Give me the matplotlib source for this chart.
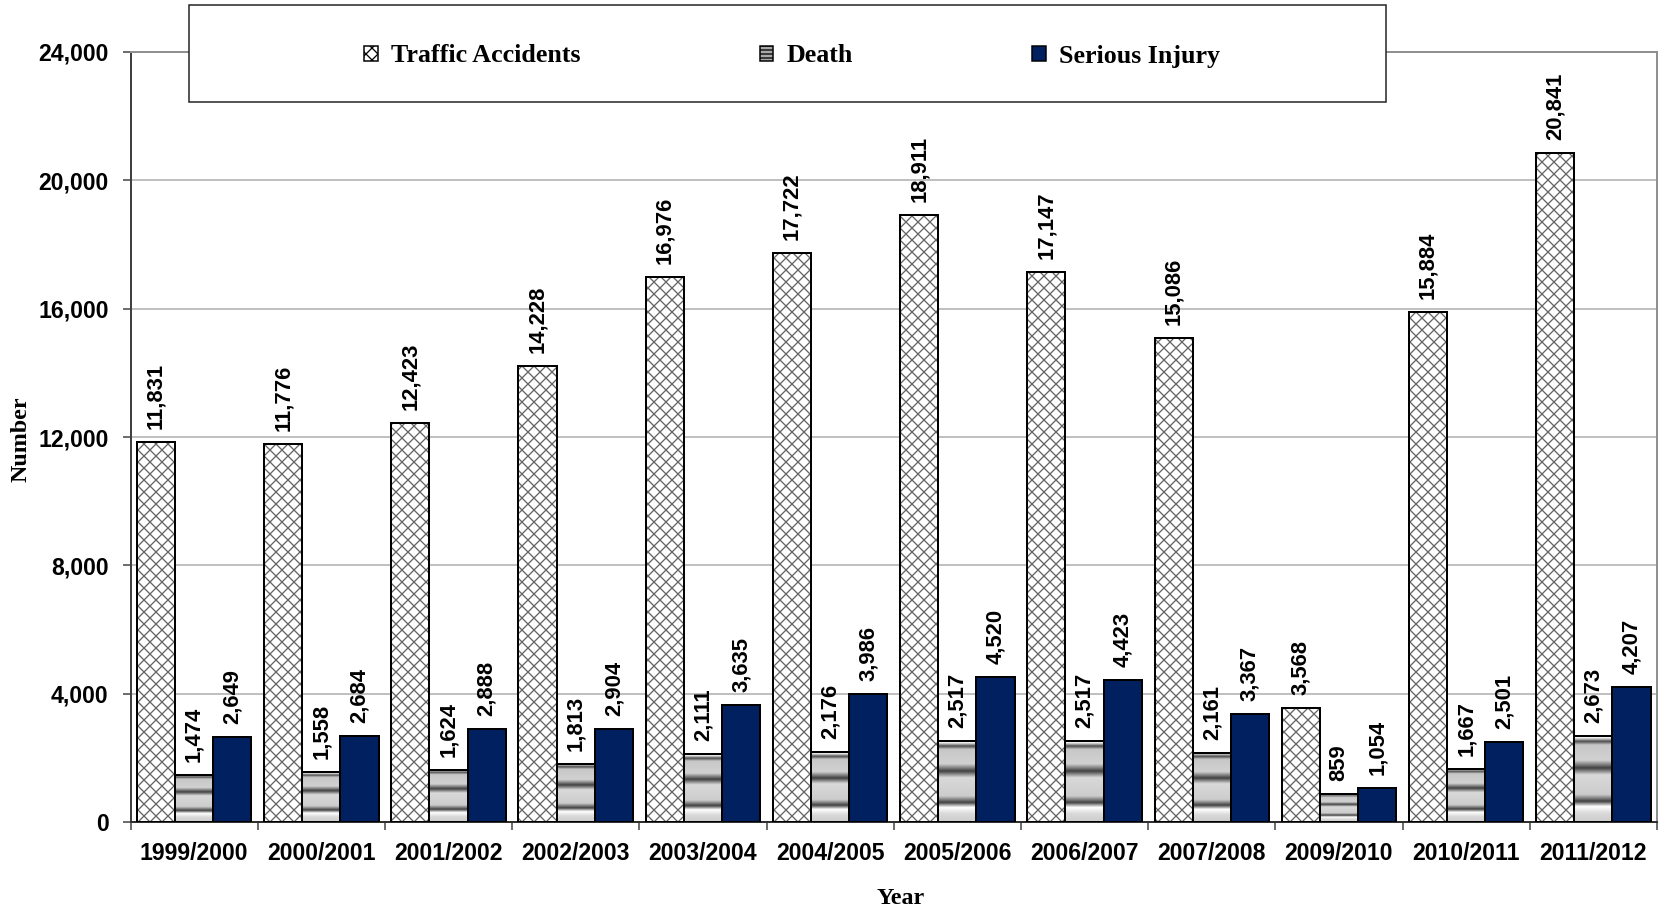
import numpy as np
import matplotlib
matplotlib.use('Agg')
import matplotlib.pyplot as plt
from matplotlib.patches import Rectangle, Patch
from matplotlib.ticker import FuncFormatter

# data
years = ['1999/2000', '2000/2001', '2001/2002', '2002/2003', '2003/2004', '2004/2005',
         '2005/2006', '2006/2007', '2007/2008', '2009/2010', '2010/2011', '2011/2012']
traffic = [11831, 11776, 12423, 14228, 16976, 17722, 18911, 17147, 15086, 3568, 15884, 20841]
death = [1474, 1558, 1624, 1813, 2111, 2176, 2517, 2517, 2161, 859, 1667, 2673]
injury = [2649, 2684, 2888, 2904, 3635, 3986, 4520, 4423, 3367, 1054, 2501, 4207]

plt.rcParams['hatch.linewidth'] = 1.3
num_font = ['Liberation Sans Narrow', 'Liberation Sans', 'DejaVu Sans']
sans = ['Liberation Sans', 'DejaVu Sans']
serif = ['Liberation Serif', 'DejaVu Serif']

fig = plt.figure(figsize=(1664 / 72, 910 / 72), dpi=72)
ax = fig.add_axes([130.5 / 1664, 88 / 910, 1526.5 / 1664, 770 / 910])

x = np.arange(len(years))
w = 0.3
navy = '#002060'

# traffic accidents: white with grey cross hatch, black outline on top
ax.bar(x - w, traffic, w, color='white', edgecolor='#646464', hatch='xx', linewidth=0, zorder=2)
ax.bar(x - w, traffic, w, fill=False, edgecolor='black', linewidth=2, zorder=4)

# death: metallic grey bands
t_stops = [0, 0.1, 0.18, 0.24, 0.32, 0.55, 0.63, 0.72, 0.9, 0.94, 0.98, 1.0]
g_stops = [0.8, 0.85, 1.0, 0.25, 0.8, 0.85, 0.25, 0.82, 0.78, 0.3, 0.92, 1.0]
grad = np.interp(np.linspace(0, 1, 200), t_stops, g_stops).reshape(-1, 1)
dbars = ax.bar(x, death, w, fill=False, edgecolor='black', linewidth=2, zorder=4)
for b in dbars:
    ax.imshow(grad, extent=[b.get_x(), b.get_x() + b.get_width(), 0, b.get_height()],
              aspect='auto', cmap='gray', vmin=0, vmax=1, origin='lower',
              interpolation='bilinear', zorder=3)

# serious injury
ax.bar(x + w, injury, w, color=navy, edgecolor='black', linewidth=2, zorder=4)

for off, vals in [(-w, traffic), (0, death), (w, injury)]:
    for xi, v in zip(x, vals):
        ax.annotate(f'{v:,}', (xi + off, v), xytext=(0, 13), textcoords='offset points',
                    rotation=90, ha='center', va='bottom', fontsize=22,
                    fontweight='bold', family=num_font)

ax.set_xlim(-0.5, len(years) - 0.5)
ax.set_ylim(0, 24000)
ax.set_yticks(np.arange(0, 24001, 4000))
ax.yaxis.set_major_formatter(FuncFormatter(lambda v, p: f'{int(v):,}'))
ax.set_xticks(np.arange(-0.5, len(years), 1))
ax.set_xticklabels([])
ax.set_xticks(x, minor=True)
ax.set_xticklabels(years, minor=True)
ax.tick_params(axis='x', which='major', direction='out', length=8, width=1.5, color='#404040')
ax.tick_params(axis='x', which='minor', length=0, pad=20)
ax.tick_params(axis='y', direction='out', length=8, width=1.5, color='#404040', pad=14)
for lab in ax.get_xticklabels(minor=True) + ax.get_yticklabels():
    lab.set_family(sans)
    lab.set_fontweight('bold')
    lab.set_fontsize(23)

ax.yaxis.grid(True, color='#c0c0c0', linewidth=2)
ax.set_axisbelow(True)
ax.spines['left'].set_color('#404040')
ax.spines['left'].set_linewidth(2)
ax.spines['bottom'].set_color('#303030')
ax.spines['bottom'].set_linewidth(2)
for s in ['top', 'right']:
    ax.spines[s].set_color('#909090')
    ax.spines[s].set_linewidth(2)

fig.text(21 / 1664, 1 - 439 / 910, 'Number', rotation=90, ha='center', va='center',
         fontsize=24, fontweight='bold', family=serif)
fig.text(901 / 1664, 1 - 898 / 910, 'Year', ha='center', va='center',
         fontsize=24, fontweight='bold', family=serif)

# legend box over the top of the plot
fig.patches.append(Rectangle((189 / 1664, 1 - 102 / 910), 1197 / 1664, 97 / 910,
                             transform=fig.transFigure, facecolor='white',
                             edgecolor='#202020', linewidth=1.5, zorder=5))
handles = [Patch(facecolor='white', edgecolor='black', hatch='xx', linewidth=1.5),
           Patch(facecolor='#a8a8a8', edgecolor='black', hatch='---', linewidth=1.5),
           Patch(facecolor=navy, edgecolor='black', linewidth=1.5)]
leg = fig.legend(handles, ['Traffic Accidents', 'Death', 'Serious Injury'], loc='center',
                 bbox_to_anchor=(792 / 1664, 1 - 56 / 910), ncol=3, frameon=False,
                 prop={'family': serif, 'weight': 'bold', 'size': 26},
                 handlelength=0.52, handleheight=0.52, handletextpad=0.5, columnspacing=6.9)
leg.set_zorder(6)

fig.savefig('out.png', dpi=72)
